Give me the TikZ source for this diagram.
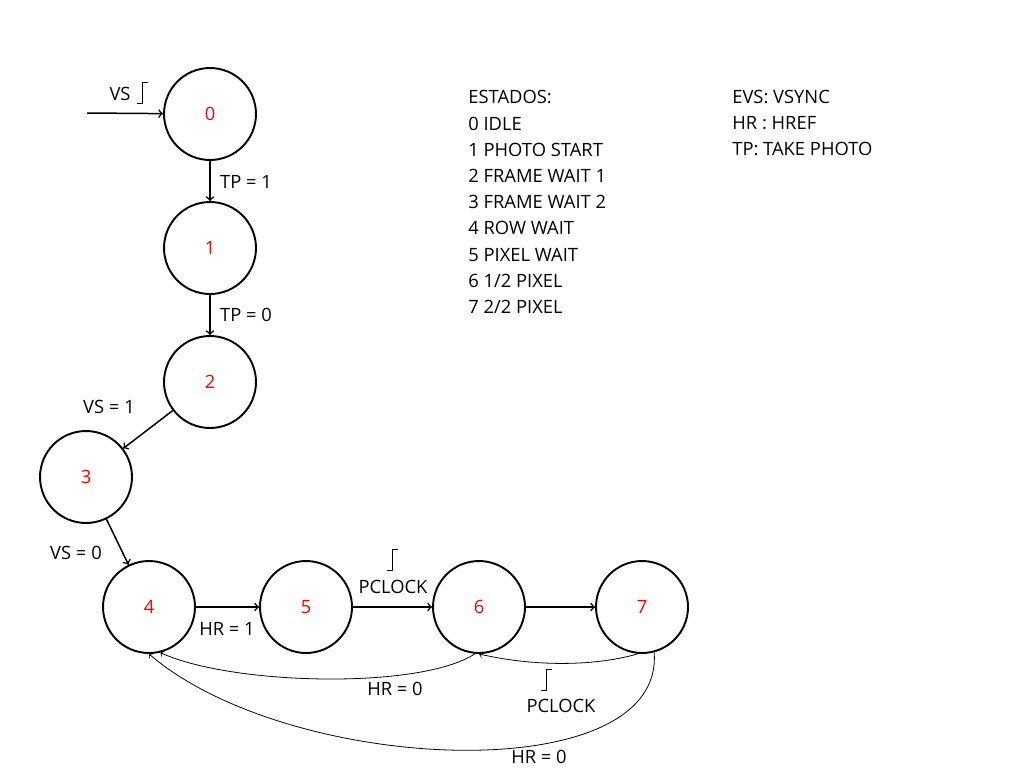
\documentclass[tikz,border=0pt]{standalone}
\usepackage{fontspec}
\setmainfont{Open Sans}
\tikzset{
    state/.style={circle, draw, line width=1.1pt, minimum size=1.84cm, inner sep=0pt, text=red},
    trans/.style={->, line width=0.85pt},
    back/.style={->, line width=0.45pt},
    risingedge/.pic={\draw [line width=0.55pt] (-5,10) -- (0,10) -- (0,-11) -- (6,-11);}
}
\begin{document}
\begin{tikzpicture}[x=0.02cm, y=-0.02cm, every node/.style={font=\fontsize{10.45}{14.9}\selectfont}]
        \useasboundingbox (0,0) rectangle (1024,768);
        % states
        \node [state] (s0) at (210,114) {0};
        \node [state] (s1) at (210,248) {1};
        \node [state] (s2) at (210,382) {2};
        \node [state] (s3) at (86,477) {3};
        \node [state] (s4) at (149,607) {4};
        \node [state] (s5) at (306,607) {5};
        \node [state] (s6) at (479,607) {6};
        \node [state] (s7) at (642,607) {7};
        \coordinate (start) at (87,113);

        \draw [trans] (start) -- (s0);
        \draw [trans] (s0) -- (s1);
        \draw [trans] (s1) -- (s2);
        \draw [trans] (s2) -- (s3);
        \draw [trans] (s3) -- (s4);
        \draw [trans] (s4) -- (s5);
        \draw [trans] (s5) -- (s6);
        \draw [trans] (s6) -- (s7);
        \draw [back] (s6.265) .. controls (420,690) and (230,685) .. (s4.284);
        \draw [back] (s7.265) .. controls (600,665) and (540,668) .. (s6.270);
        \draw [back] (s7.285) .. controls (665,790) and (290,775) .. (s4.270);

        % labels
        \node (vs) at (120,94) {VS};
        \pic at (142,93) {risingedge};
        \node (tp1) at (246,182) {TP = 1};
        \node (tp0) at (246,315) {TP = 0};
        \node (vs1) at (109,407) {VS = 1};
        \node (vs0) at (76,553) {VS = 0};
        \node (hr1) at (227,629) {HR = 1};
        \pic at (392,560) {risingedge};
        \node (pclk1) at (393,587) {PCLOCK};
        \node (hr0a) at (395,689) {HR = 0};
        \pic at (546,680) {risingedge};
        \node (pclk2) at (561,706) {PCLOCK};
        \node (hr0b) at (539,757) {HR = 0};

        % legend
        \node [anchor=west, align=left, inner sep=0pt] (estados) at (468,202)
            {ESTADOS:\\0 IDLE\\1 PHOTO START\\2 FRAME WAIT 1\\3 FRAME WAIT 2\\4 ROW WAIT\\5 PIXEL WAIT\\6 1/2 PIXEL\\7 2/2 PIXEL};
        \node [anchor=west, align=left, inner sep=0pt] (siglas) at (732,123)
            {EVS: VSYNC\\HR : HREF\\TP: TAKE PHOTO};

    \end{tikzpicture}
\end{document}
